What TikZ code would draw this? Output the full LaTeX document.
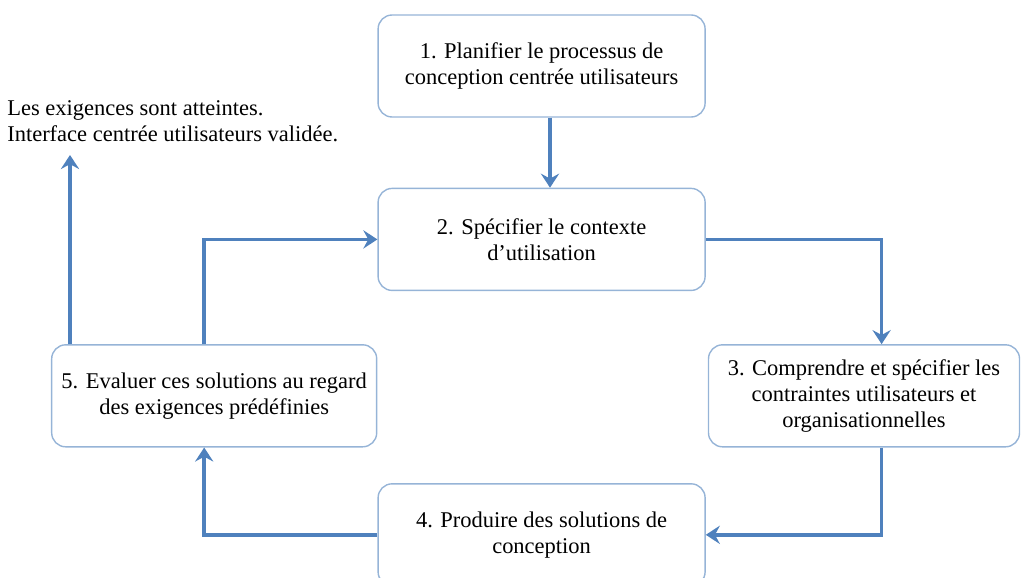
\documentclass[tikz,border=0pt]{standalone}
\usepackage{fontspec}
\setmainfont{Liberation Serif}
\usetikzlibrary{arrows.meta, positioning, calc}
\definecolor{flowblue}{RGB}{79,129,189}
\definecolor{boxblue}{RGB}{150,180,215}

\begin{document}
\begin{tikzpicture}[
  stepbox/.style = {draw=boxblue, line width=1pt, rounded corners=0.35cm, align=center,
    minimum width=8.175cm, minimum height=2.55cm, inner sep=0, text=black,
    font=\fontsize{16}{18.5}\selectfont},
  flow/.style = {draw=flowblue, line width=2.5pt, -{Stealth[length=10pt, width=13pt, inset=3.5pt]}},
  ]
  \useasboundingbox (0,0) rectangle (25.525,-14.425);
  \node[stepbox] (plan) at (13.54,-1.65) {1. Planifier le processus de\\conception centrée utilisateurs};
  \node[stepbox, below = 1.75 of plan] (context) {2. Spécifier le contexte\\d’utilisation};
  \node[stepbox, minimum width=7.775cm, below right = 1.325 and 0.05 of context] (needs) {3. Comprendre et spécifier les\\contraintes utilisateurs et\\organisationnelles};
  \node[stepbox, below = 4.8 of context] (design) {4. Produire des solutions de\\conception};
  \node[stepbox, minimum width=8.125cm, below left = 1.325 and 0 of context] (assess) {5. Evaluer ces solutions au regard\\des exigences prédéfinies};
  \node[align=left, anchor=west, inner sep=0, text=black, font=\fontsize{16}{18.5}\selectfont]
    (done) at (0.175,-3.025) {Les exigences sont atteintes.\\Interface centrée utilisateurs validée.};
  \coordinate (exit) at (1.75,-3.875);

  \draw[flow] ([xshift=0.21cm]plan.south) -- ([xshift=0.21cm]context.north);
  \draw[flow] (context.east) -| ([xshift=0.44cm]needs.north);
  \draw[flow] ([xshift=0.44cm]needs.south) |- (design.east);
  \draw[flow] (design.west) -| ([xshift=-0.25cm]assess.south);
  \draw[flow] ([xshift=-0.25cm]assess.north) |- (context.west);
  \draw[flow] (assess.north west -| exit) -- (exit);
\end{tikzpicture}
\end{document}
